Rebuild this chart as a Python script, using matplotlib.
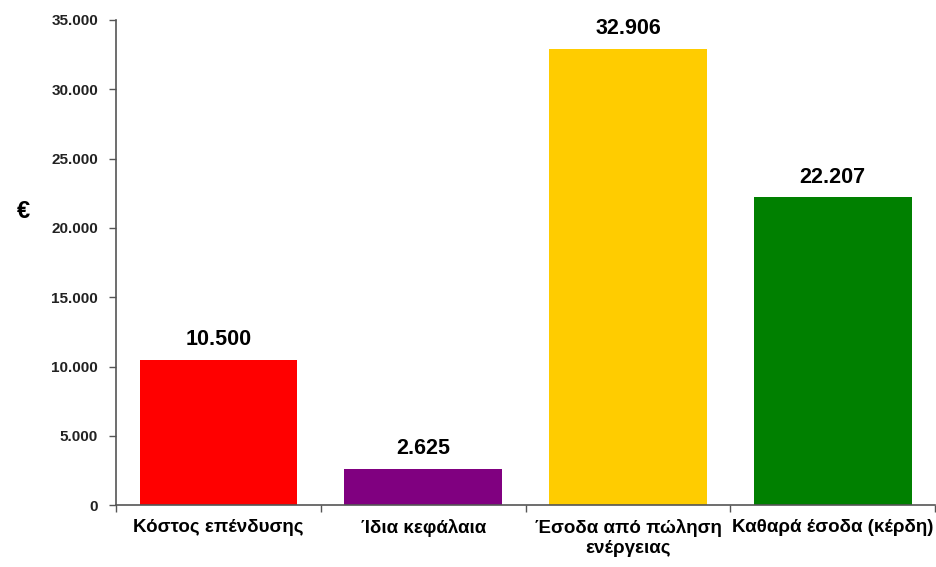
import matplotlib
matplotlib.use("Agg")
import matplotlib.pyplot as plt
from matplotlib.ticker import FuncFormatter, FixedLocator

plt.rcParams['font.family'] = ['Liberation Sans', 'DejaVu Sans']

categories = ["Κόστος επένδυσης", "Ίδια κεφάλαια", "Έσοδα από πώληση\nενέργειας", "Καθαρά έσοδα (κέρδη)"]
values = [10500, 2625, 32906, 22207]
colors = ["#ff0000", "#800080", "#ffcc00", "#008000"]
y_ticks = [0, 5000, 10000, 15000, 20000, 25000, 30000, 35000]

fig = plt.figure(figsize=(9.36, 5.67), dpi=100)
ax = fig.add_axes([0.124, 0.109, 0.875, 0.856])

x = list(range(len(categories)))
ax.bar(x, values, width=0.77, color=colors, zorder=2)

def fmt(v, pos=None):
    return f"{int(v):,}".replace(",", ".")

for xi, v in zip(x, values):
    ax.text(xi, v + 700, fmt(v), ha="center", va="bottom",
            fontsize=15.5, fontweight="bold", color="#000000")

ax.set_xlim(-0.5, len(categories) - 0.5)
ax.set_ylim(0, 35000)
ax.set_yticks(y_ticks)
ax.yaxis.set_major_formatter(FuncFormatter(fmt))
ax.set_xticks(x)
ax.set_xticklabels(categories, fontsize=13.5, fontweight="bold", linespacing=1.25)
ax.xaxis.set_minor_locator(FixedLocator([i - 0.5 for i in range(len(categories) + 1)]))
ax.tick_params(axis="x", which="major", length=0, pad=10)
ax.tick_params(axis="x", which="minor", length=5, width=1, color="#555555", direction="out")
ax.tick_params(axis="y", length=5, width=1, color="#555555", direction="out", pad=8,
               labelsize=11, labelcolor="#222222")
for lbl in ax.get_yticklabels():
    lbl.set_fontweight("bold")

for side in ("top", "right"):
    ax.spines[side].set_visible(False)
for side in ("left", "bottom"):
    ax.spines[side].set_color("#555555")
    ax.spines[side].set_linewidth(1.2)
    ax.spines[side].set_zorder(3)

fig.text(0.018, 0.627, "€", fontsize=17, fontweight="bold", ha="left", va="center")

fig.savefig("out.png", dpi=100)
